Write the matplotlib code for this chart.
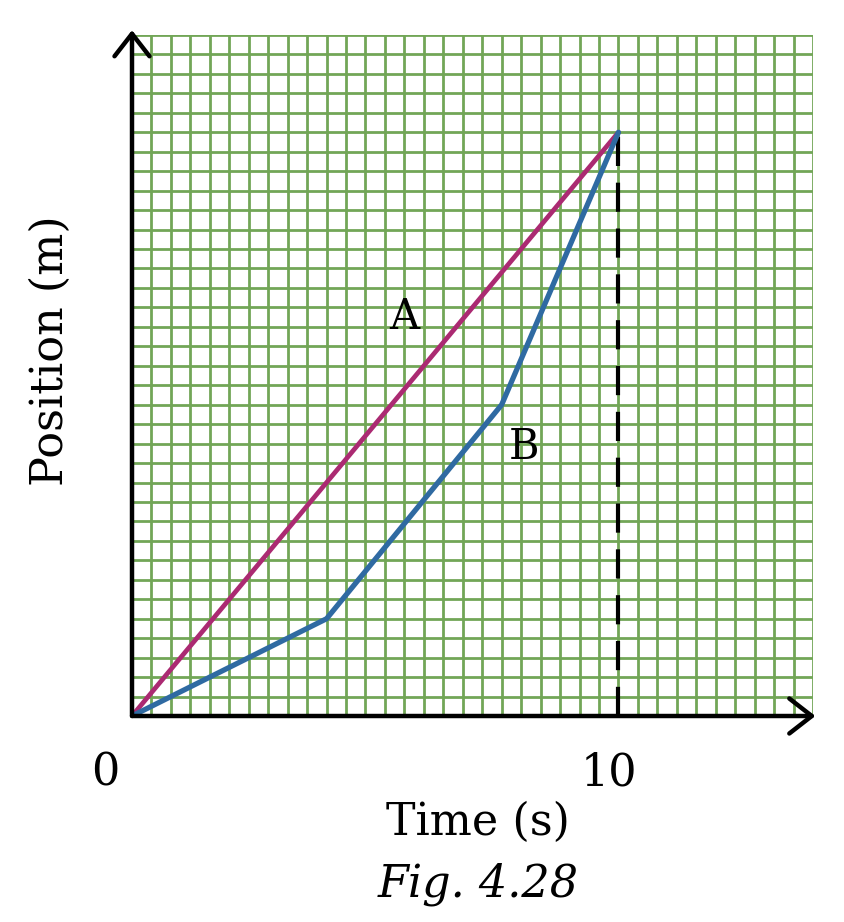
import numpy as np
import matplotlib.pyplot as plt

# graph data (y in grid squares, x in seconds)
t_a = [0, 10]
pos_a = [0, 30]
t_b = [0, 4, 7.6, 10]
pos_b = [0, 5, 16, 30]
x_labels = ["0", "10"]
x_label_pos = [0, 10]

fig = plt.figure(figsize=(8.44, 9.22), dpi=100)
ax = fig.add_axes([132 / 844, 1 - 716 / 922, 681 / 844, 681 / 922])
ax.set_xlim(0, 14)
ax.set_ylim(0, 35)

# graph paper
grid_col = "#72a657"
ax.set_xticks(np.arange(0, 14.01, 0.4))
ax.set_yticks(np.arange(0, 35.01, 1))
ax.grid(True, color=grid_col, lw=2.0)
ax.tick_params(length=0, labelbottom=False, labelleft=False)
for s in ax.spines.values():
    s.set_visible(False)
ax.set_axisbelow(True)

# lines
ax.plot(t_a, pos_a, color="#ab2a72", lw=3.4, solid_capstyle="round", zorder=3)
ax.plot(t_b, pos_b, color="#2f6aa2", lw=3.8, solid_capstyle="round", zorder=3)
ax.plot([t_a[-1], t_a[-1]], [0, pos_a[-1]], color="black", lw=3,
        dashes=(7, 4), zorder=2)

# axes with open arrowheads
arrow = dict(arrowstyle="->,head_length=0.45,head_width=0.35", color="black",
             lw=3.2, shrinkA=0, shrinkB=0, mutation_scale=36)
ax.annotate("", xy=(0, 35.25), xytext=(0, 0), xycoords="data",
            arrowprops=arrow, annotation_clip=False, zorder=5)
ax.annotate("", xy=(14.05, 0), xytext=(0, 0), xycoords="data",
            arrowprops=arrow, annotation_clip=False, zorder=5)

font = "DejaVu Serif"
for lab, xv in zip(x_labels, x_label_pos):
    ax.text(xv - 0.55 if xv == 0 else xv - 0.2, -2.9, lab, fontsize=32,
            family=font, ha="center", va="center")

ax.text(5.6, 20.5, "A", fontsize=30, family=font, ha="center", va="center")
ax.text(8.05, 13.85, "B", fontsize=30, family=font, ha="center", va="center")

fig.text(478 / 844, 1 - 822 / 922, "Time (s)", fontsize=32, family=font,
         ha="center", va="center")
fig.text(478 / 844, 1 - 884 / 922, "Fig. 4.28", fontsize=32, family=font,
         style="italic", ha="center", va="center")
fig.text(50 / 844, 1 - 351 / 922, "Position (m)", fontsize=32, family=font,
         rotation=90, ha="center", va="center")

fig.savefig("out.png", dpi=100)
